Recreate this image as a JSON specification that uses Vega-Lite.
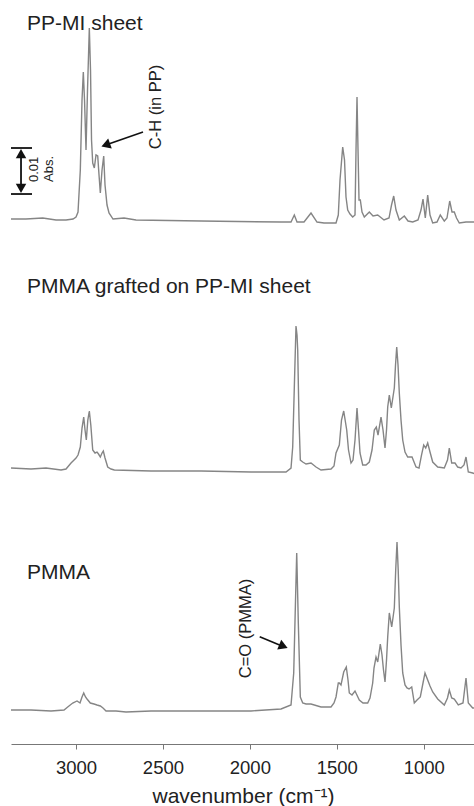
{
  "$schema": "https://vega.github.io/schema/vega-lite/v6.json",
  "padding": {"left": 10, "top": 0, "right": 0, "bottom": 0},
  "autosize": {"type": "pad"},
  "spacing": 0,
  "bounds": "flush",
  "background": "white",
  "config": {
    "view": {"stroke": null},
    "font": "Liberation Sans",
    "text": {"font": "Liberation Sans", "color": "#222222"},
    "axis": {"grid": false}
  },
  "vconcat": [
    {
      "width": 464,
      "height": 250,
      "layer": [
        {
          "data": {"values": [
            {"w":3374,"v":0.00043},{"w":3288,"v":0.00043},{"w":3191.5,"v":0.00065},{"w":3115,"v":0.00022},{"w":3057.5,"v":0.00022},{"w":3017.3,"v":0.00043},{"w":3000,"v":0.00087},{"w":2988.5,"v":0.00196},{"w":2975.3,"v":0.01109},{"w":2965.5,"v":0.0263},{"w":2958,"v":0.03239},{"w":2951.1,"v":0.0263},{"w":2942.5,"v":0.01543},{"w":2933.9,"v":0.02848},{"w":2923.5,"v":0.04196},{"w":2916.6,"v":0.03283},{"w":2910.8,"v":0.01761},{"w":2903.9,"v":0.01261},{"w":2894.7,"v":0.01152},{"w":2885,"v":0.01435},{"w":2875.2,"v":0.01413},{"w":2867.7,"v":0.01},{"w":2860.2,"v":0.00609},{"w":2850.4,"v":0.01109},{"w":2840.7,"v":0.01413},{"w":2833.2,"v":0.00783},{"w":2821.7,"v":0.00348},{"w":2810.2,"v":0.00174},{"w":2787.2,"v":0.00043},{"w":2723.9,"v":0.00065},{"w":2654.9,"v":0.00022},{"w":2281,"v":0},{"w":1820.8,"v":-0.00022},{"w":1763.3,"v":-0.00022},{"w":1744.3,"v":0.0013},{"w":1728.8,"v":-0.00022},{"w":1688.5,"v":-0.00022},{"w":1648.3,"v":0.00174},{"w":1613.8,"v":-0.00022},{"w":1573.5,"v":-0.00043},{"w":1504.5,"v":-0.00043},{"w":1491.3,"v":0.0013},{"w":1481.5,"v":0.00891},{"w":1466,"v":0.01609},{"w":1455.6,"v":0.01326},{"w":1447,"v":0.00522},{"w":1437.2,"v":0.00239},{"w":1424,"v":0.00152},{"w":1408.4,"v":0.00087},{"w":1395.2,"v":0.0013},{"w":1389.4,"v":0.01543},{"w":1383.7,"v":0.02696},{"w":1377.9,"v":0.01543},{"w":1372.2,"v":0.00457},{"w":1364.7,"v":0.00457},{"w":1354.9,"v":0.00196},{"w":1341.7,"v":0.00087},{"w":1312.9,"v":0.00196},{"w":1291.6,"v":0.00109},{"w":1264.6,"v":0.0013},{"w":1228.4,"v":0.00022},{"w":1199.6,"v":0.00065},{"w":1185.2,"v":0.00348},{"w":1172.6,"v":0.00543},{"w":1159.4,"v":0.00239},{"w":1140.4,"v":0.00022},{"w":1111.6,"v":0.00109},{"w":1090.3,"v":0},{"w":1063.3,"v":-0.00022},{"w":1032.8,"v":0.00022},{"w":1015.6,"v":0.00239},{"w":1004.1,"v":0.00478},{"w":990.9,"v":0.00065},{"w":977.1,"v":0.00565},{"w":963.8,"v":0.0013},{"w":948.3,"v":-0.00043},{"w":923.6,"v":-0.00022},{"w":904.6,"v":0.0013},{"w":881.6,"v":0},{"w":866.1,"v":0.00065},{"w":850.5,"v":0.00435},{"w":837.3,"v":0.00196},{"w":824.1,"v":0.00196},{"w":811.4,"v":0.00065},{"w":795.3,"v":-0.00043},{"w":756.7,"v":-0.00022},{"w":705,"v":-0.00022}
          ]},
          "mark": {"type": "line", "color": "#858585", "strokeWidth": 1.4, "clip": true},
          "encoding": {
            "x": {"field": "w", "type": "quantitative", "scale": {"domain": [705, 3374], "reverse": true, "nice": false, "zero": false}, "axis": null},
            "y": {"field": "v", "type": "quantitative", "scale": {"domain": [-0.0063, 0.04804], "nice": false, "zero": false}, "axis": null}
          }
        },
        {
          "data": {"values": [{"w": 3281.8, "v": 0.04283, "t": "PP-MI sheet"}]},
          "mark": {"type": "text", "align": "left", "baseline": "middle", "fontSize": 21},
          "encoding": {
            "x": {"field": "w", "type": "quantitative"},
            "y": {"field": "v", "type": "quantitative"},
            "text": {"field": "t"}
          }
        },
        {
          "data": {"values": [{"w": 2542.7, "v": 0.02478, "t": "C-H (in PP)"}]},
          "mark": {"type": "text", "align": "center", "baseline": "middle", "angle": 270, "fontSize": 16.5},
          "encoding": {
            "x": {"field": "w", "type": "quantitative"},
            "y": {"field": "v", "type": "quantitative"},
            "text": {"field": "t"}
          }
        },
        {
          "data": {"values": [{"w": 3244.5, "v": 0.00848, "t": "0.01"}, {"w": 3158.2, "v": 0.00848, "t": "Abs."}]},
          "mark": {"type": "text", "align": "left", "baseline": "middle", "angle": 270, "fontSize": 13},
          "encoding": {
            "x": {"field": "w", "type": "quantitative"},
            "y": {"field": "v", "type": "quantitative"},
            "text": {"field": "t"}
          }
        },
        {
          "data": {"values": [{"w": 2614.6, "v": 0.01935, "w2": 2829.2, "v2": 0.01652}]},
          "mark": {"type": "rule", "color": "#111111", "strokeWidth": 1.6},
          "encoding": {
            "x": {"field": "w", "type": "quantitative"},
            "y": {"field": "v", "type": "quantitative"},
            "x2": {"field": "w2"},
            "y2": {"field": "v2"}
          }
        },
        {
          "data": {"values": [{"w": 3316.4, "v": 0.0152, "w2": 3316.4, "v2": 0.0065}, {"w": 3374, "v": 0.01587, "w2": 3253.1, "v2": 0.01587}, {"w": 3374, "v": 0.00587, "w2": 3253.1, "v2": 0.00587}]},
          "mark": {"type": "rule", "color": "#111111", "strokeWidth": 1.8},
          "encoding": {
            "x": {"field": "w", "type": "quantitative"},
            "y": {"field": "v", "type": "quantitative"},
            "x2": {"field": "w2"},
            "y2": {"field": "v2"}
          }
        },
        {
          "data": {"values": [{"w": 2829.2, "v": 0.01652}]},
          "mark": {"type": "point", "shape": "triangle-left", "angle": 340, "filled": true, "color": "#111111", "size": 110, "opacity": 1},
          "encoding": {
            "x": {"field": "w", "type": "quantitative"},
            "y": {"field": "v", "type": "quantitative"}
          }
        },
        {
          "data": {"values": [{"w": 3316.4, "v": 0.01465}]},
          "mark": {"type": "point", "shape": "triangle-up", "filled": true, "color": "#111111", "size": 110, "opacity": 1},
          "encoding": {
            "x": {"field": "w", "type": "quantitative"},
            "y": {"field": "v", "type": "quantitative"}
          }
        },
        {
          "data": {"values": [{"w": 3316.4, "v": 0.0071}]},
          "mark": {"type": "point", "shape": "triangle-down", "filled": true, "color": "#111111", "size": 110, "opacity": 1},
          "encoding": {
            "x": {"field": "w", "type": "quantitative"},
            "y": {"field": "v", "type": "quantitative"}
          }
        }
      ]
    },
    {
      "width": 464,
      "height": 245,
      "layer": [
        {
          "data": {"values": [
            {"w":3374,"v":0.00043},{"w":3258.8,"v":0.00022},{"w":3172.6,"v":0.00043},{"w":3086.3,"v":0},{"w":3057.5,"v":0.00022},{"w":3028.8,"v":0.00152},{"w":3000,"v":0.00261},{"w":2988.5,"v":0.00326},{"w":2975.3,"v":0.005},{"w":2965.5,"v":0.00913},{"w":2955.7,"v":0.01152},{"w":2948.2,"v":0.0087},{"w":2940.8,"v":0.00652},{"w":2932.1,"v":0.01087},{"w":2923.5,"v":0.01283},{"w":2914.9,"v":0.00978},{"w":2903.9,"v":0.00435},{"w":2890.7,"v":0.0037},{"w":2879.2,"v":0.00391},{"w":2870.6,"v":0.00348},{"w":2860.2,"v":0.00283},{"w":2850.4,"v":0.0037},{"w":2843,"v":0.00413},{"w":2833.2,"v":0.00261},{"w":2817.7,"v":0.00065},{"w":2798.7,"v":0.00022},{"w":2779.7,"v":0},{"w":2568.6,"v":-0.00022},{"w":2281,"v":-0.00022},{"w":1993.4,"v":-0.00043},{"w":1792.1,"v":-0.00043},{"w":1763.3,"v":0.00043},{"w":1753.6,"v":0.005},{"w":1743.2,"v":0.01957},{"w":1734.6,"v":0.0313},{"w":1728.8,"v":0.02935},{"w":1724.8,"v":0.02609},{"w":1717.3,"v":0.01087},{"w":1709.8,"v":0.00217},{"w":1696,"v":0.00174},{"w":1677,"v":0.0013},{"w":1648.3,"v":0.00152},{"w":1619.5,"v":0.00065},{"w":1590.8,"v":0},{"w":1533.2,"v":0.00022},{"w":1516,"v":0.00087},{"w":1504.5,"v":0.0037},{"w":1485.5,"v":0.00543},{"w":1472.9,"v":0.01087},{"w":1460.2,"v":0.01283},{"w":1442.9,"v":0.0087},{"w":1432.6,"v":0.00435},{"w":1418.2,"v":0.00152},{"w":1406.7,"v":0.00217},{"w":1395.2,"v":0.00652},{"w":1383.7,"v":0.01348},{"w":1375,"v":0.0087},{"w":1366.4,"v":0.0037},{"w":1350.9,"v":0.00109},{"w":1331.9,"v":0.00109},{"w":1312.9,"v":0.00174},{"w":1297.4,"v":0.00435},{"w":1284.2,"v":0.0087},{"w":1272.7,"v":0.00935},{"w":1262.9,"v":0.00761},{"w":1245.6,"v":0.01152},{"w":1234.1,"v":0.0087},{"w":1222.6,"v":0.00478},{"w":1214,"v":0.0087},{"w":1207.1,"v":0.0137},{"w":1197.9,"v":0.0163},{"w":1186.4,"v":0.01348},{"w":1169.1,"v":0.01783},{"w":1162.2,"v":0.02283},{"w":1155.3,"v":0.02674},{"w":1147.8,"v":0.02283},{"w":1140.4,"v":0.01674},{"w":1130.6,"v":0.01087},{"w":1120.8,"v":0.00652},{"w":1107.6,"v":0.00391},{"w":1092.1,"v":0.00283},{"w":1067.3,"v":0.00283},{"w":1044.3,"v":0.00065},{"w":1027.1,"v":0.00043},{"w":1012.7,"v":0.00326},{"w":1000,"v":0.00543},{"w":988.5,"v":0.00478},{"w":977.1,"v":0.00587},{"w":963.8,"v":0.00391},{"w":948.3,"v":0.00174},{"w":919.5,"v":0.00065},{"w":881.6,"v":0.00043},{"w":863.2,"v":0.00217},{"w":852.8,"v":0.00478},{"w":839,"v":0.00152},{"w":820,"v":0.00152},{"w":804.5,"v":0.00065},{"w":785.5,"v":0.00043},{"w":768.2,"v":0.00109},{"w":756.7,"v":0.00283},{"w":743.5,"v":-0.00043},{"w":718.2,"v":-0.00065},{"w":705,"v":-0.00087}
          ]},
          "mark": {"type": "line", "color": "#858585", "strokeWidth": 1.4, "clip": true},
          "encoding": {
            "x": {"field": "w", "type": "quantitative", "scale": {"domain": [705, 3374], "reverse": true, "nice": false, "zero": false}, "axis": null},
            "y": {"field": "v", "type": "quantitative", "scale": {"domain": [-0.00543, 0.04783], "nice": false, "zero": false}, "axis": null}
          }
        },
        {
          "data": {"values": [{"w": 3281.8, "v": 0.03978, "t": "PMMA grafted on PP-MI sheet"}]},
          "mark": {"type": "text", "align": "left", "baseline": "middle", "fontSize": 21},
          "encoding": {
            "x": {"field": "w", "type": "quantitative"},
            "y": {"field": "v", "type": "quantitative"},
            "text": {"field": "t"}
          }
        }
      ]
    },
    {
      "width": 464,
      "height": 249,
      "layer": [
        {
          "data": {"values": [
            {"w":3374,"v":-0.00022},{"w":3258.8,"v":-0.00022},{"w":3143.8,"v":-0.00043},{"w":3069,"v":-0.00022},{"w":3047.7,"v":0.00043},{"w":3019,"v":0.0013},{"w":2994.2,"v":0.00174},{"w":2977,"v":0.0013},{"w":2965.5,"v":0.00261},{"w":2955.7,"v":0.00348},{"w":2945.4,"v":0.00261},{"w":2936.7,"v":0.00217},{"w":2917.7,"v":0.0013},{"w":2896.5,"v":0.00109},{"w":2879.2,"v":0.00087},{"w":2860.2,"v":0.00065},{"w":2844.7,"v":0.00022},{"w":2827.4,"v":-0.00043},{"w":2769.9,"v":-0.00043},{"w":2712.4,"v":-0.00065},{"w":2568.6,"v":-0.00043},{"w":2281,"v":-0.00043},{"w":1993.4,"v":-0.00043},{"w":1820.8,"v":0},{"w":1763.3,"v":0.00087},{"w":1747.8,"v":0.00783},{"w":1737.4,"v":0.0237},{"w":1730.5,"v":0.03391},{"w":1721.3,"v":0.0187},{"w":1709.8,"v":0.00261},{"w":1696,"v":0.0013},{"w":1677,"v":0.00109},{"w":1648.3,"v":0.00109},{"w":1590.8,"v":0.00043},{"w":1533.2,"v":0.00043},{"w":1516,"v":0.0013},{"w":1504.5,"v":0.00261},{"w":1491.3,"v":0.00565},{"w":1485.5,"v":0.00565},{"w":1475.8,"v":0.00522},{"w":1460.2,"v":0.00804},{"w":1445.3,"v":0.00913},{"w":1435.5,"v":0.0063},{"w":1428,"v":0.00348},{"w":1412.5,"v":0.00304},{"w":1395.2,"v":0.00391},{"w":1370.5,"v":0.00196},{"w":1349.3,"v":0.0013},{"w":1322.2,"v":0.0013},{"w":1309,"v":0.00239},{"w":1293.5,"v":0.00565},{"w":1286,"v":0.00891},{"w":1274.4,"v":0.0113},{"w":1264.6,"v":0.01022},{"w":1249.7,"v":0.01413},{"w":1239.9,"v":0.01174},{"w":1231.3,"v":0.00848},{"w":1222.6,"v":0.00587},{"w":1214,"v":0.01065},{"w":1207.1,"v":0.01565},{"w":1197.9,"v":0.02087},{"w":1184.1,"v":0.01783},{"w":1169.1,"v":0.02196},{"w":1161.1,"v":0.03022},{"w":1153.6,"v":0.0363},{"w":1146.7,"v":0.03022},{"w":1140.4,"v":0.02217},{"w":1130.6,"v":0.01391},{"w":1120.8,"v":0.00783},{"w":1107.6,"v":0.00522},{"w":1096.1,"v":0.00457},{"w":1084.6,"v":0.00435},{"w":1069,"v":0.00478},{"w":1054.1,"v":0.0013},{"w":1038.5,"v":0.00196},{"w":1019.6,"v":0.00261},{"w":1004.1,"v":0.00565},{"w":992.6,"v":0.00783},{"w":977.1,"v":0.0063},{"w":963.8,"v":0.005},{"w":948.3,"v":0.0037},{"w":919.5,"v":0.00217},{"w":881.6,"v":0.00087},{"w":863.2,"v":0.00239},{"w":852.8,"v":0.00413},{"w":839,"v":0.00239},{"w":824.1,"v":0.00217},{"w":801.1,"v":0.00087},{"w":774.1,"v":0.0013},{"w":756.7,"v":0.00674},{"w":743.5,"v":0.0013},{"w":718.2,"v":0.00022},{"w":705,"v":0.00022}
          ]},
          "mark": {"type": "line", "color": "#858585", "strokeWidth": 1.4, "clip": true},
          "encoding": {
            "x": {"field": "w", "type": "quantitative", "scale": {"domain": [705, 3374], "reverse": true, "nice": false, "zero": false},
              "axis": {"values": [3000, 2500, 2000, 1500, 1000], "title": "wavenumber (cm⁻¹)", "format": "d", "labelFontSize": 18.5, "labelColor": "#222222", "labelFont": "Liberation Sans", "labelPadding": 9, "tickSize": 5, "tickColor": "#777777", "domainColor": "#777777", "domainWidth": 1.2, "titleFontSize": 21, "titleFontWeight": "normal", "titleColor": "#222222", "titleFont": "Liberation Sans", "titlePadding": 9, "grid": false}},
            "y": {"field": "v", "type": "quantitative", "scale": {"domain": [-0.00761, 0.04652], "nice": false, "zero": false}, "axis": null}
          }
        },
        {
          "data": {"values": [{"w": 3281.8, "v": 0.02957, "t": "PMMA"}]},
          "mark": {"type": "text", "align": "left", "baseline": "middle", "fontSize": 21},
          "encoding": {
            "x": {"field": "w", "type": "quantitative"},
            "y": {"field": "v", "type": "quantitative"},
            "text": {"field": "t"}
          }
        },
        {
          "data": {"values": [{"w": 2022.2, "v": 0.0175, "t": "C=O (PMMA)"}]},
          "mark": {"type": "text", "align": "center", "baseline": "middle", "angle": 270, "fontSize": 16.5},
          "encoding": {
            "x": {"field": "w", "type": "quantitative"},
            "y": {"field": "v", "type": "quantitative"},
            "text": {"field": "t"}
          }
        },
        {
          "data": {"values": [{"w": 1943.4, "v": 0.01572, "w2": 1812, "v2": 0.01365}]},
          "mark": {"type": "rule", "color": "#111111", "strokeWidth": 1.6},
          "encoding": {
            "x": {"field": "w", "type": "quantitative"},
            "y": {"field": "v", "type": "quantitative"},
            "x2": {"field": "w2"},
            "y2": {"field": "v2"}
          }
        },
        {
          "data": {"values": [{"w": 1807, "v": 0.01361}]},
          "mark": {"type": "point", "shape": "triangle-right", "angle": 22.5, "filled": true, "color": "#111111", "size": 110, "opacity": 1},
          "encoding": {
            "x": {"field": "w", "type": "quantitative"},
            "y": {"field": "v", "type": "quantitative"}
          }
        }
      ]
    }
  ]
}
